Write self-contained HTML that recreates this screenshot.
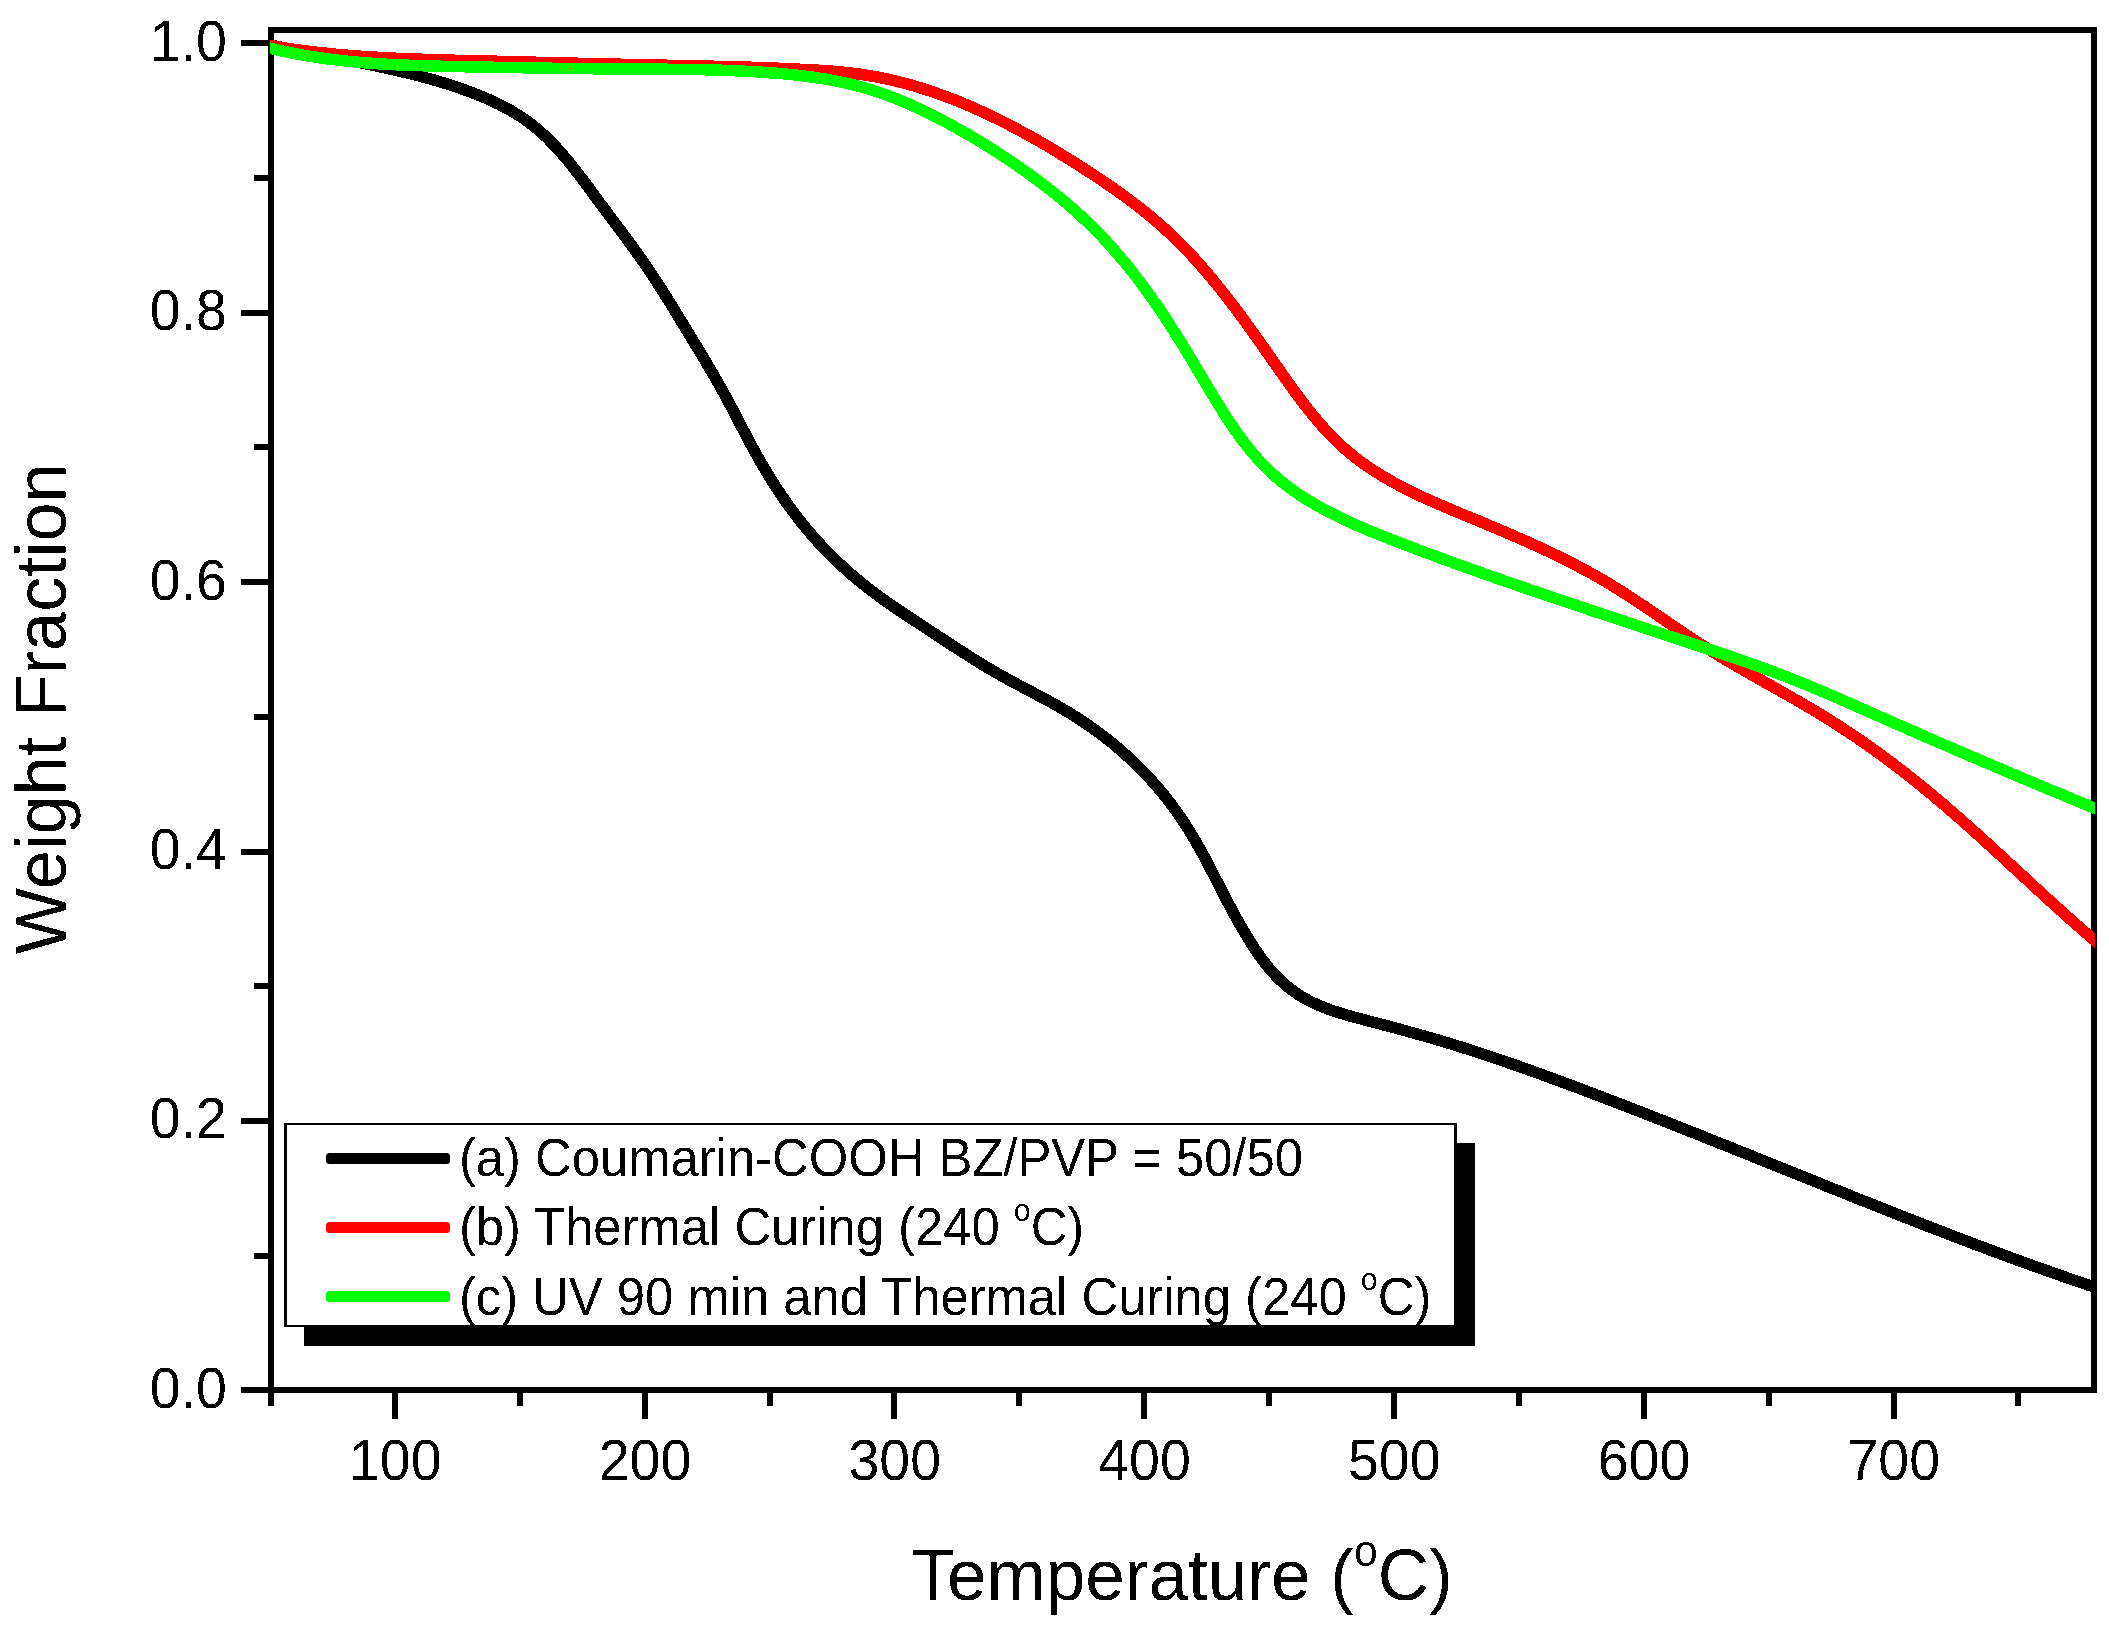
<!DOCTYPE html>
<html lang="en"><head><meta charset="utf-8"><title>TGA Weight Fraction vs Temperature</title>
<style>html,body{margin:0;padding:0;background:#fff}body{width:2109px;height:1629px;overflow:hidden}svg{display:block}text{font-family:"Liberation Sans",Arial,Helvetica,sans-serif;fill:#000}</style></head><body>
<svg width="2109" height="1629" viewBox="0 0 2109 1629">
<rect width="2109" height="1629" fill="#fff"/>
<filter id="bin" x="-5%" y="-20%" width="110%" height="140%" color-interpolation-filters="sRGB"><feComponentTransfer><feFuncA type="discrete" tableValues="0 1"/></feComponentTransfer></filter>
<g shape-rendering="crispEdges" fill="#000">
<rect x="268" y="27" width="6" height="1379"/>
<rect x="2091" y="27" width="6" height="1366"/>
<rect x="268" y="27" width="1829" height="6"/>
<rect x="241" y="1387" width="1856" height="6"/>
<rect x="392" y="1390" width="6" height="29"/>
<rect x="642" y="1390" width="6" height="29"/>
<rect x="891" y="1390" width="6" height="29"/>
<rect x="1141" y="1390" width="6" height="29"/>
<rect x="1391" y="1390" width="6" height="29"/>
<rect x="1641" y="1390" width="6" height="29"/>
<rect x="1891" y="1390" width="6" height="29"/>
<rect x="517" y="1390" width="6" height="16"/>
<rect x="767" y="1390" width="6" height="16"/>
<rect x="1016" y="1390" width="6" height="16"/>
<rect x="1266" y="1390" width="6" height="16"/>
<rect x="1516" y="1390" width="6" height="16"/>
<rect x="1766" y="1390" width="6" height="16"/>
<rect x="2015" y="1390" width="6" height="16"/>
<rect x="241" y="1118" width="29" height="6"/>
<rect x="241" y="849" width="29" height="6"/>
<rect x="241" y="579" width="29" height="6"/>
<rect x="241" y="310" width="29" height="6"/>
<rect x="241" y="40" width="29" height="6"/>
<rect x="254" y="1253" width="16" height="6"/>
<rect x="254" y="983" width="16" height="6"/>
<rect x="254" y="714" width="16" height="6"/>
<rect x="254" y="444" width="16" height="6"/>
<rect x="254" y="175" width="16" height="6"/>
</g>
<g font-size="55.5px" filter="url(#bin)">
<text transform="translate(395.2,1479.8) scale(1,1.02)" text-anchor="middle">100</text>
<text transform="translate(645.0,1479.8) scale(1,1.02)" text-anchor="middle">200</text>
<text transform="translate(894.7,1479.8) scale(1,1.02)" text-anchor="middle">300</text>
<text transform="translate(1144.5,1479.8) scale(1,1.02)" text-anchor="middle">400</text>
<text transform="translate(1394.2,1479.8) scale(1,1.02)" text-anchor="middle">500</text>
<text transform="translate(1644.0,1479.8) scale(1,1.02)" text-anchor="middle">600</text>
<text transform="translate(1893.7,1479.8) scale(1,1.02)" text-anchor="middle">700</text>
<text transform="translate(226.8,1407.8) scale(1,1.02)" text-anchor="end">0.0</text>
<text transform="translate(226.8,1138.4) scale(1,1.02)" text-anchor="end">0.2</text>
<text transform="translate(226.8,869.0) scale(1,1.02)" text-anchor="end">0.4</text>
<text transform="translate(226.8,599.6) scale(1,1.02)" text-anchor="end">0.6</text>
<text transform="translate(226.8,330.2) scale(1,1.02)" text-anchor="end">0.8</text>
<text transform="translate(226.8,60.8) scale(1,1.02)" text-anchor="end">1.0</text>
</g>
<g filter="url(#bin)">
<text font-size="70px" transform="translate(911.4,1599.9) scale(1.016,1.04)">Temperature (<tspan font-size="42px" dy="-32.7">o</tspan><tspan dy="32.7">C)</tspan></text>
<text font-size="70px" transform="translate(65.2,954.3) rotate(-90) scale(1.004,1.04)">Weight Fraction</text>
</g>
<clipPath id="plotclip"><rect x="270" y="0" width="1825" height="1629"/></clipPath>
<g fill="none" stroke-width="11.5" stroke-linejoin="round" stroke-linecap="butt" shape-rendering="crispEdges" clip-path="url(#plotclip)">
<path stroke="#000" d="M262.3,43.1 L270.1,44.8 L274.6,45.8 L279.1,46.8 L283.6,47.7 L288.1,48.7 L292.6,49.6 L297.1,50.5 L301.7,51.4 L306.2,52.3 L310.7,53.2 L315.3,54.1 L319.8,55.0 L324.3,55.8 L328.9,56.7 L333.4,57.6 L338.0,58.4 L342.5,59.3 L347.1,60.2 L351.6,61.1 L356.1,61.9 L360.7,62.8 L365.2,63.7 L369.8,64.7 L374.3,65.6 L378.8,66.5 L383.3,67.5 L387.9,68.5 L392.4,69.5 L396.9,70.5 L401.4,71.6 L405.9,72.6 L410.4,73.7 L414.9,74.8 L419.3,76.0 L423.8,77.2 L428.3,78.4 L432.7,79.6 L437.1,80.9 L441.6,82.3 L446.0,83.6 L450.4,85.0 L454.8,86.5 L459.2,88.0 L463.5,89.5 L467.9,91.1 L472.2,92.7 L476.6,94.4 L480.9,96.1 L485.1,97.9 L489.4,99.8 L493.6,101.7 L497.8,103.7 L501.9,105.8 L506.0,107.9 L510.0,110.1 L514.0,112.5 L517.9,114.9 L521.7,117.3 L525.5,119.9 L529.2,122.6 L532.8,125.4 L536.4,128.3 L539.8,131.2 L543.2,134.3 L546.6,137.4 L549.8,140.7 L553.0,144.0 L556.2,147.3 L559.3,150.7 L562.4,154.2 L565.4,157.8 L568.4,161.3 L571.3,164.9 L574.2,168.6 L577.1,172.3 L579.9,176.0 L582.8,179.7 L585.6,183.5 L588.4,187.2 L591.1,191.0 L593.9,194.8 L596.7,198.5 L599.4,202.3 L602.2,206.0 L605.0,209.7 L607.7,213.4 L610.5,217.1 L613.3,220.8 L616.0,224.5 L618.8,228.1 L621.6,231.8 L624.3,235.5 L627.0,239.2 L629.7,242.9 L632.4,246.6 L635.1,250.3 L637.8,254.0 L640.5,257.8 L643.1,261.5 L645.7,265.3 L648.3,269.1 L650.8,272.9 L653.4,276.8 L655.9,280.7 L658.4,284.5 L660.9,288.4 L663.4,292.3 L665.9,296.3 L668.3,300.2 L670.8,304.1 L673.2,308.1 L675.6,312.0 L678.0,316.0 L680.5,320.0 L682.9,323.9 L685.3,327.9 L687.7,331.8 L690.1,335.8 L692.5,339.7 L694.9,343.7 L697.3,347.6 L699.7,351.6 L702.1,355.6 L704.5,359.5 L706.8,363.5 L709.2,367.5 L711.5,371.4 L713.8,375.4 L716.1,379.4 L718.4,383.4 L720.7,387.5 L722.9,391.5 L725.1,395.5 L727.3,399.6 L729.5,403.7 L731.7,407.8 L733.8,411.8 L735.9,415.9 L738.1,420.0 L740.2,424.1 L742.3,428.2 L744.5,432.3 L746.6,436.4 L748.8,440.5 L751.0,444.6 L753.2,448.6 L755.4,452.7 L757.7,456.7 L759.9,460.8 L762.3,464.8 L764.6,468.7 L767.0,472.7 L769.4,476.7 L771.8,480.6 L774.3,484.5 L776.8,488.4 L779.4,492.2 L782.0,496.1 L784.6,499.9 L787.2,503.7 L789.9,507.4 L792.7,511.1 L795.5,514.8 L798.3,518.5 L801.1,522.1 L804.0,525.7 L807.0,529.3 L809.9,532.8 L813.0,536.3 L816.0,539.8 L819.2,543.2 L822.3,546.6 L825.5,549.9 L828.7,553.2 L832.0,556.5 L835.3,559.7 L838.7,562.9 L842.1,566.1 L845.5,569.2 L848.9,572.3 L852.4,575.3 L856.0,578.3 L859.5,581.3 L863.1,584.2 L866.7,587.1 L870.4,589.9 L874.1,592.7 L877.8,595.5 L881.5,598.2 L885.3,600.9 L889.0,603.5 L892.8,606.1 L896.7,608.8 L900.5,611.3 L904.3,613.9 L908.2,616.5 L912.0,619.0 L915.9,621.5 L919.8,624.1 L923.6,626.6 L927.5,629.1 L931.3,631.7 L935.2,634.2 L939.1,636.8 L942.9,639.3 L946.8,641.9 L950.6,644.4 L954.5,646.9 L958.4,649.4 L962.3,651.9 L966.2,654.4 L970.1,656.9 L974.0,659.4 L977.9,661.8 L981.8,664.2 L985.8,666.6 L989.8,669.0 L993.8,671.3 L997.8,673.6 L1001.8,675.9 L1005.8,678.1 L1009.9,680.4 L1014.0,682.6 L1018.0,684.7 L1022.1,686.9 L1026.2,689.1 L1030.3,691.2 L1034.4,693.4 L1038.5,695.6 L1042.6,697.7 L1046.7,699.9 L1050.7,702.1 L1054.8,704.4 L1058.8,706.7 L1062.8,709.0 L1066.7,711.3 L1070.7,713.7 L1074.6,716.1 L1078.4,718.6 L1082.3,721.1 L1086.1,723.7 L1089.9,726.3 L1093.7,729.0 L1097.4,731.7 L1101.1,734.4 L1104.7,737.2 L1108.4,740.1 L1112.0,742.9 L1115.5,745.9 L1119.0,748.9 L1122.5,751.9 L1126.0,755.0 L1129.4,758.1 L1132.8,761.3 L1136.1,764.5 L1139.4,767.7 L1142.7,771.0 L1145.9,774.4 L1149.1,777.8 L1152.2,781.2 L1155.3,784.7 L1158.3,788.2 L1161.3,791.7 L1164.2,795.3 L1167.1,798.9 L1169.9,802.6 L1172.7,806.3 L1175.4,810.0 L1178.1,813.8 L1180.7,817.6 L1183.3,821.4 L1185.8,825.3 L1188.3,829.2 L1190.7,833.1 L1193.1,837.0 L1195.4,841.0 L1197.7,845.0 L1199.9,849.0 L1202.2,853.1 L1204.4,857.1 L1206.5,861.2 L1208.7,865.3 L1210.8,869.4 L1213.0,873.5 L1215.1,877.6 L1217.2,881.7 L1219.3,885.8 L1221.4,889.9 L1223.6,894.1 L1225.7,898.2 L1227.8,902.3 L1230.0,906.4 L1232.2,910.4 L1234.4,914.5 L1236.6,918.6 L1238.9,922.6 L1241.2,926.6 L1243.5,930.6 L1245.9,934.6 L1248.3,938.6 L1250.7,942.5 L1253.2,946.4 L1255.8,950.3 L1258.4,954.1 L1261.1,957.9 L1263.9,961.6 L1266.7,965.3 L1269.6,968.8 L1272.7,972.3 L1275.8,975.7 L1279.0,979.0 L1282.3,982.1 L1285.8,985.2 L1289.3,988.0 L1293.0,990.8 L1296.7,993.4 L1300.5,995.9 L1304.5,998.3 L1308.5,1000.5 L1312.6,1002.5 L1316.8,1004.5 L1321.0,1006.3 L1325.3,1008.0 L1329.6,1009.6 L1334.0,1011.1 L1338.4,1012.5 L1342.9,1013.9 L1347.4,1015.2 L1351.8,1016.5 L1356.4,1017.7 L1360.9,1018.9 L1365.4,1020.1 L1369.9,1021.3 L1374.4,1022.5 L1378.9,1023.6 L1383.4,1024.8 L1387.9,1026.0 L1392.3,1027.2 L1396.8,1028.4 L1401.2,1029.6 L1405.7,1030.8 L1410.1,1032.1 L1414.6,1033.3 L1419.0,1034.5 L1423.5,1035.8 L1427.9,1037.1 L1432.3,1038.3 L1436.7,1039.6 L1441.2,1040.9 L1445.6,1042.3 L1450.0,1043.6 L1454.4,1045.0 L1458.8,1046.3 L1463.2,1047.7 L1467.6,1049.1 L1472.0,1050.5 L1476.4,1052.0 L1480.8,1053.4 L1485.1,1054.8 L1489.5,1056.3 L1493.9,1057.8 L1498.3,1059.3 L1502.7,1060.7 L1507.0,1062.2 L1511.4,1063.8 L1515.8,1065.3 L1520.1,1066.8 L1524.5,1068.4 L1528.8,1069.9 L1533.2,1071.5 L1537.5,1073.0 L1541.9,1074.6 L1546.2,1076.2 L1550.6,1077.8 L1554.9,1079.4 L1559.3,1081.0 L1563.6,1082.6 L1567.9,1084.2 L1572.3,1085.8 L1576.6,1087.4 L1580.9,1089.0 L1585.3,1090.7 L1589.6,1092.3 L1593.9,1094.0 L1598.2,1095.6 L1602.6,1097.2 L1606.9,1098.9 L1611.2,1100.6 L1615.5,1102.2 L1619.8,1103.9 L1624.2,1105.5 L1628.5,1107.2 L1632.8,1108.9 L1637.1,1110.5 L1641.4,1112.2 L1645.7,1113.9 L1650.0,1115.6 L1654.3,1117.3 L1658.6,1119.0 L1662.9,1120.6 L1667.2,1122.3 L1671.5,1124.0 L1675.8,1125.7 L1680.1,1127.4 L1684.4,1129.1 L1688.7,1130.8 L1693.0,1132.5 L1697.3,1134.2 L1701.6,1135.9 L1705.9,1137.7 L1710.2,1139.4 L1714.5,1141.1 L1718.7,1142.8 L1723.0,1144.5 L1727.3,1146.2 L1731.6,1147.9 L1735.9,1149.7 L1740.2,1151.4 L1744.5,1153.1 L1748.8,1154.8 L1753.0,1156.5 L1757.3,1158.3 L1761.6,1160.0 L1765.9,1161.7 L1770.2,1163.4 L1774.5,1165.2 L1778.8,1166.9 L1783.1,1168.6 L1787.3,1170.3 L1791.6,1172.1 L1795.9,1173.8 L1800.2,1175.5 L1804.5,1177.2 L1808.8,1179.0 L1813.1,1180.7 L1817.3,1182.4 L1821.6,1184.1 L1825.9,1185.9 L1830.2,1187.6 L1834.5,1189.3 L1838.8,1191.0 L1843.1,1192.7 L1847.4,1194.4 L1851.7,1196.2 L1855.9,1197.9 L1860.2,1199.6 L1864.5,1201.3 L1868.8,1203.0 L1873.1,1204.7 L1877.4,1206.4 L1881.7,1208.1 L1886.0,1209.8 L1890.3,1211.5 L1894.6,1213.2 L1898.9,1214.9 L1903.2,1216.6 L1907.5,1218.3 L1911.8,1220.0 L1916.1,1221.7 L1920.4,1223.3 L1924.7,1225.0 L1929.0,1226.7 L1933.4,1228.4 L1937.7,1230.0 L1942.0,1231.7 L1946.3,1233.4 L1950.6,1235.0 L1954.9,1236.7 L1959.2,1238.3 L1963.6,1240.0 L1967.9,1241.6 L1972.2,1243.3 L1976.5,1244.9 L1980.9,1246.5 L1985.2,1248.1 L1989.5,1249.8 L1993.9,1251.4 L1998.2,1253.0 L2002.5,1254.6 L2006.9,1256.2 L2011.2,1257.8 L2015.5,1259.4 L2019.9,1261.0 L2024.2,1262.5 L2028.6,1264.1 L2032.9,1265.7 L2037.3,1267.2 L2041.6,1268.8 L2046.0,1270.3 L2050.3,1271.9 L2054.7,1273.4 L2059.0,1274.9 L2063.4,1276.5 L2067.8,1278.0 L2072.1,1279.5 L2076.5,1281.0 L2080.9,1282.5 L2085.3,1284.0 L2089.6,1285.5 L2094.0,1286.9 L2101.6,1289.5"/>
<path stroke="#f00" d="M262.1,44.2 L270.0,45.5 L274.2,46.3 L278.4,47.0 L282.6,47.6 L286.8,48.3 L291.0,48.9 L295.2,49.5 L299.5,50.1 L303.7,50.7 L307.9,51.2 L312.1,51.7 L316.3,52.2 L320.6,52.7 L324.8,53.1 L329.0,53.6 L333.3,54.0 L337.5,54.4 L341.7,54.8 L346.0,55.1 L350.2,55.5 L354.4,55.8 L358.7,56.1 L362.9,56.4 L367.2,56.7 L371.4,56.9 L375.7,57.2 L379.9,57.4 L384.2,57.7 L388.4,57.9 L392.6,58.1 L396.9,58.3 L401.1,58.5 L405.4,58.7 L409.7,58.8 L413.9,59.0 L418.2,59.1 L422.4,59.3 L426.7,59.4 L430.9,59.6 L435.2,59.7 L439.4,59.8 L443.7,59.9 L447.9,60.0 L452.2,60.2 L456.4,60.3 L460.7,60.4 L465.0,60.5 L469.2,60.6 L473.5,60.7 L477.7,60.8 L482.0,60.9 L486.2,61.0 L490.5,61.1 L494.7,61.2 L499.0,61.3 L503.3,61.4 L507.5,61.5 L511.8,61.7 L516.0,61.8 L520.3,61.9 L524.5,62.0 L528.8,62.1 L533.0,62.2 L537.3,62.3 L541.5,62.4 L545.8,62.5 L550.0,62.6 L554.3,62.7 L558.6,62.8 L562.8,62.9 L567.1,63.0 L571.3,63.1 L575.6,63.2 L579.8,63.3 L584.1,63.4 L588.3,63.5 L592.6,63.6 L596.8,63.7 L601.1,63.8 L605.3,63.9 L609.6,64.0 L613.8,64.1 L618.1,64.2 L622.3,64.3 L626.6,64.4 L630.8,64.4 L635.1,64.5 L639.3,64.6 L643.6,64.7 L647.9,64.8 L652.1,64.9 L656.4,65.0 L660.6,65.1 L664.9,65.2 L669.1,65.3 L673.4,65.4 L677.6,65.5 L681.9,65.5 L686.1,65.6 L690.4,65.7 L694.6,65.8 L698.9,65.9 L703.1,66.0 L707.4,66.1 L711.6,66.2 L715.9,66.3 L720.1,66.4 L724.4,66.5 L728.6,66.6 L732.9,66.7 L737.1,66.9 L741.4,67.0 L745.7,67.1 L749.9,67.2 L754.2,67.4 L758.4,67.5 L762.7,67.7 L766.9,67.8 L771.2,68.0 L775.4,68.1 L779.7,68.3 L784.0,68.5 L788.2,68.7 L792.5,68.9 L796.7,69.1 L801.0,69.3 L805.2,69.5 L809.5,69.7 L813.8,69.9 L818.0,70.2 L822.3,70.5 L826.5,70.8 L830.8,71.1 L835.0,71.5 L839.3,71.8 L843.5,72.3 L847.7,72.7 L852.0,73.2 L856.2,73.7 L860.4,74.3 L864.6,74.9 L868.8,75.6 L873.0,76.3 L877.2,77.0 L881.3,77.9 L885.5,78.7 L889.6,79.6 L893.8,80.6 L897.9,81.6 L902.0,82.6 L906.1,83.7 L910.2,84.8 L914.3,86.0 L918.4,87.2 L922.4,88.5 L926.5,89.8 L930.5,91.1 L934.5,92.4 L938.5,93.9 L942.5,95.3 L946.5,96.8 L950.5,98.3 L954.5,99.8 L958.4,101.4 L962.3,103.0 L966.3,104.7 L970.2,106.3 L974.1,108.0 L977.9,109.8 L981.8,111.5 L985.7,113.3 L989.5,115.1 L993.3,117.0 L997.2,118.8 L1001.0,120.7 L1004.8,122.7 L1008.6,124.6 L1012.3,126.6 L1016.1,128.6 L1019.8,130.6 L1023.6,132.6 L1027.3,134.7 L1031.1,136.7 L1034.8,138.8 L1038.5,140.9 L1042.2,143.1 L1045.9,145.2 L1049.5,147.4 L1053.2,149.6 L1056.9,151.8 L1060.5,154.0 L1064.1,156.2 L1067.8,158.4 L1071.4,160.7 L1075.0,163.0 L1078.6,165.2 L1082.2,167.5 L1085.8,169.8 L1089.4,172.2 L1093.0,174.5 L1096.5,176.8 L1100.1,179.2 L1103.6,181.6 L1107.1,184.0 L1110.6,186.4 L1114.1,188.8 L1117.6,191.3 L1121.1,193.8 L1124.5,196.3 L1127.9,198.8 L1131.3,201.3 L1134.7,203.9 L1138.0,206.5 L1141.4,209.1 L1144.7,211.8 L1148.0,214.4 L1151.3,217.1 L1154.5,219.9 L1157.7,222.6 L1160.9,225.4 L1164.1,228.2 L1167.2,231.1 L1170.3,234.0 L1173.4,236.9 L1176.4,239.8 L1179.5,242.8 L1182.5,245.8 L1185.4,248.9 L1188.4,252.0 L1191.3,255.1 L1194.1,258.2 L1197.0,261.3 L1199.8,264.5 L1202.6,267.7 L1205.4,270.9 L1208.2,274.2 L1210.9,277.4 L1213.6,280.7 L1216.3,284.0 L1219.0,287.3 L1221.7,290.7 L1224.3,294.0 L1226.9,297.4 L1229.5,300.8 L1232.1,304.1 L1234.7,307.5 L1237.2,310.9 L1239.7,314.3 L1242.3,317.7 L1244.8,321.2 L1247.3,324.6 L1249.8,328.0 L1252.2,331.5 L1254.7,334.9 L1257.2,338.4 L1259.6,341.9 L1262.1,345.3 L1264.5,348.8 L1267.0,352.3 L1269.4,355.8 L1271.9,359.3 L1274.3,362.8 L1276.8,366.3 L1279.2,369.8 L1281.7,373.3 L1284.2,376.8 L1286.6,380.3 L1289.1,383.8 L1291.6,387.3 L1294.1,390.8 L1296.7,394.2 L1299.2,397.7 L1301.8,401.1 L1304.4,404.5 L1307.0,407.9 L1309.7,411.2 L1312.3,414.5 L1315.1,417.8 L1317.8,421.1 L1320.6,424.3 L1323.4,427.5 L1326.2,430.6 L1329.1,433.7 L1332.1,436.7 L1335.1,439.7 L1338.1,442.7 L1341.2,445.5 L1344.3,448.4 L1347.5,451.1 L1350.7,453.8 L1354.0,456.5 L1357.3,459.1 L1360.7,461.6 L1364.1,464.1 L1367.6,466.5 L1371.1,468.9 L1374.7,471.2 L1378.2,473.4 L1381.9,475.7 L1385.5,477.8 L1389.2,480.0 L1392.9,482.1 L1396.6,484.1 L1400.4,486.1 L1404.2,488.1 L1407.9,490.0 L1411.8,491.9 L1415.6,493.7 L1419.4,495.6 L1423.3,497.4 L1427.2,499.1 L1431.1,500.9 L1435.0,502.6 L1438.9,504.3 L1442.8,506.0 L1446.7,507.7 L1450.7,509.4 L1454.6,511.0 L1458.5,512.7 L1462.5,514.3 L1466.4,515.9 L1470.4,517.6 L1474.3,519.2 L1478.3,520.8 L1482.2,522.5 L1486.2,524.1 L1490.1,525.8 L1494.0,527.4 L1498.0,529.1 L1501.9,530.7 L1505.8,532.4 L1509.7,534.1 L1513.6,535.8 L1517.5,537.5 L1521.4,539.2 L1525.3,540.9 L1529.2,542.6 L1533.1,544.4 L1536.9,546.2 L1540.8,547.9 L1544.6,549.7 L1548.5,551.5 L1552.3,553.4 L1556.1,555.2 L1559.9,557.1 L1563.7,558.9 L1567.5,560.8 L1571.3,562.8 L1575.1,564.7 L1578.8,566.7 L1582.6,568.7 L1586.3,570.7 L1590.0,572.7 L1593.7,574.8 L1597.4,576.9 L1601.1,579.0 L1604.7,581.1 L1608.4,583.3 L1612.0,585.5 L1615.6,587.7 L1619.2,589.9 L1622.8,592.2 L1626.4,594.5 L1630.0,596.8 L1633.5,599.2 L1637.1,601.5 L1640.6,603.9 L1644.2,606.2 L1647.7,608.6 L1651.2,611.0 L1654.8,613.4 L1658.3,615.8 L1661.8,618.2 L1665.3,620.6 L1668.8,623.0 L1672.4,625.4 L1675.9,627.8 L1679.4,630.2 L1683.0,632.6 L1686.5,634.9 L1690.1,637.3 L1693.6,639.6 L1697.2,642.0 L1700.8,644.3 L1704.4,646.6 L1708.0,648.9 L1711.6,651.1 L1715.2,653.4 L1718.8,655.6 L1722.5,657.8 L1726.1,660.0 L1729.8,662.1 L1733.4,664.3 L1737.1,666.4 L1740.8,668.5 L1744.5,670.7 L1748.2,672.8 L1751.9,674.9 L1755.6,677.0 L1759.3,679.1 L1763.0,681.2 L1766.7,683.3 L1770.4,685.3 L1774.1,687.4 L1777.8,689.5 L1781.5,691.6 L1785.2,693.7 L1788.9,695.8 L1792.6,697.9 L1796.2,700.0 L1799.9,702.2 L1803.6,704.3 L1807.3,706.5 L1810.9,708.6 L1814.6,710.8 L1818.2,713.0 L1821.8,715.2 L1825.5,717.4 L1829.1,719.7 L1832.7,721.9 L1836.3,724.2 L1839.8,726.5 L1843.4,728.9 L1847.0,731.2 L1850.5,733.6 L1854.0,735.9 L1857.6,738.3 L1861.1,740.7 L1864.6,743.2 L1868.0,745.6 L1871.5,748.1 L1875.0,750.5 L1878.4,753.0 L1881.9,755.5 L1885.3,758.1 L1888.7,760.6 L1892.1,763.1 L1895.5,765.7 L1898.9,768.3 L1902.3,770.9 L1905.7,773.5 L1909.0,776.1 L1912.4,778.8 L1915.7,781.4 L1919.0,784.1 L1922.3,786.8 L1925.6,789.5 L1928.9,792.2 L1932.2,794.9 L1935.4,797.6 L1938.7,800.4 L1941.9,803.1 L1945.2,805.9 L1948.4,808.7 L1951.6,811.5 L1954.8,814.2 L1958.0,817.0 L1961.2,819.9 L1964.4,822.7 L1967.6,825.5 L1970.7,828.3 L1973.9,831.2 L1977.1,834.0 L1980.2,836.9 L1983.4,839.7 L1986.5,842.6 L1989.6,845.4 L1992.8,848.3 L1995.9,851.2 L1999.1,854.1 L2002.2,856.9 L2005.3,859.8 L2008.4,862.7 L2011.6,865.6 L2014.7,868.5 L2017.8,871.4 L2021.0,874.2 L2024.1,877.1 L2027.2,880.0 L2030.3,882.9 L2033.5,885.8 L2036.6,888.7 L2039.7,891.5 L2042.9,894.4 L2046.0,897.3 L2049.1,900.1 L2052.3,903.0 L2055.4,905.9 L2058.6,908.7 L2061.8,911.6 L2064.9,914.4 L2068.1,917.2 L2071.3,920.1 L2074.5,922.9 L2077.7,925.7 L2080.9,928.5 L2084.1,931.3 L2087.3,934.1 L2090.5,936.8 L2093.7,939.6 L2099.8,944.8"/>
<path stroke="#0f0" d="M262.2,46.3 L270.0,48.1 L274.0,49.1 L278.1,50.1 L282.1,51.0 L286.2,51.9 L290.3,52.7 L294.3,53.5 L298.4,54.3 L302.5,55.0 L306.6,55.7 L310.6,56.4 L314.7,57.0 L318.8,57.7 L322.9,58.2 L327.0,58.8 L331.1,59.3 L335.2,59.8 L339.3,60.3 L343.4,60.8 L347.5,61.2 L351.6,61.6 L355.7,62.0 L359.8,62.4 L363.9,62.7 L368.0,63.0 L372.1,63.3 L376.3,63.6 L380.4,63.9 L384.5,64.1 L388.6,64.4 L392.8,64.6 L396.9,64.8 L401.0,65.0 L405.1,65.1 L409.3,65.3 L413.4,65.5 L417.5,65.6 L421.7,65.7 L425.8,65.9 L429.9,66.0 L434.1,66.1 L438.2,66.2 L442.3,66.3 L446.5,66.4 L450.6,66.5 L454.7,66.5 L458.9,66.6 L463.0,66.7 L467.1,66.8 L471.3,66.8 L475.4,66.9 L479.5,67.0 L483.7,67.1 L487.8,67.2 L491.9,67.2 L496.1,67.3 L500.2,67.4 L504.3,67.4 L508.5,67.5 L512.6,67.6 L516.7,67.7 L520.9,67.7 L525.0,67.8 L529.1,67.9 L533.3,67.9 L537.4,68.0 L541.5,68.1 L545.7,68.1 L549.8,68.2 L553.9,68.3 L558.1,68.3 L562.2,68.4 L566.3,68.4 L570.5,68.5 L574.6,68.5 L578.7,68.6 L582.8,68.6 L587.0,68.7 L591.1,68.7 L595.2,68.8 L599.4,68.8 L603.5,68.8 L607.6,68.9 L611.8,68.9 L615.9,68.9 L620.0,69.0 L624.2,69.0 L628.3,69.0 L632.4,69.0 L636.6,69.1 L640.7,69.1 L644.8,69.1 L649.0,69.1 L653.1,69.1 L657.2,69.2 L661.4,69.2 L665.5,69.2 L669.6,69.3 L673.7,69.3 L677.9,69.3 L682.0,69.4 L686.1,69.4 L690.3,69.5 L694.4,69.6 L698.5,69.7 L702.7,69.7 L706.8,69.8 L710.9,69.9 L715.1,70.0 L719.2,70.2 L723.3,70.3 L727.5,70.4 L731.6,70.6 L735.7,70.8 L739.9,71.0 L744.0,71.2 L748.1,71.4 L752.3,71.6 L756.4,71.8 L760.5,72.1 L764.7,72.4 L768.8,72.7 L772.9,73.0 L777.1,73.3 L781.2,73.6 L785.3,74.0 L789.5,74.4 L793.6,74.8 L797.7,75.3 L801.8,75.8 L805.9,76.3 L810.0,76.8 L814.1,77.4 L818.2,78.0 L822.3,78.6 L826.3,79.3 L830.4,80.0 L834.5,80.8 L838.5,81.6 L842.5,82.4 L846.6,83.3 L850.6,84.2 L854.6,85.2 L858.5,86.2 L862.5,87.3 L866.5,88.4 L870.4,89.6 L874.3,90.9 L878.2,92.2 L882.1,93.5 L886.0,94.9 L889.9,96.3 L893.7,97.8 L897.6,99.3 L901.4,100.9 L905.2,102.5 L909.0,104.1 L912.8,105.8 L916.5,107.5 L920.3,109.2 L924.0,111.0 L927.7,112.8 L931.5,114.7 L935.2,116.6 L938.8,118.5 L942.5,120.4 L946.2,122.3 L949.8,124.3 L953.5,126.3 L957.1,128.3 L960.7,130.3 L964.3,132.4 L967.9,134.4 L971.5,136.5 L975.1,138.6 L978.6,140.8 L982.2,142.9 L985.7,145.1 L989.2,147.3 L992.7,149.5 L996.2,151.7 L999.7,153.9 L1003.1,156.2 L1006.6,158.5 L1010.0,160.8 L1013.4,163.1 L1016.8,165.4 L1020.2,167.8 L1023.6,170.2 L1027.0,172.6 L1030.3,175.0 L1033.6,177.5 L1037.0,179.9 L1040.3,182.4 L1043.6,184.9 L1046.8,187.4 L1050.1,189.9 L1053.3,192.5 L1056.6,195.1 L1059.8,197.7 L1063.0,200.3 L1066.1,203.0 L1069.3,205.7 L1072.4,208.4 L1075.5,211.1 L1078.5,213.9 L1081.6,216.6 L1084.6,219.5 L1087.6,222.3 L1090.6,225.2 L1093.5,228.1 L1096.4,231.0 L1099.3,234.0 L1102.2,237.0 L1105.0,240.0 L1107.8,243.0 L1110.6,246.1 L1113.3,249.2 L1116.0,252.3 L1118.7,255.4 L1121.4,258.6 L1124.1,261.7 L1126.7,264.9 L1129.3,268.1 L1131.9,271.4 L1134.4,274.6 L1137.0,277.9 L1139.5,281.2 L1141.9,284.5 L1144.4,287.8 L1146.8,291.1 L1149.2,294.4 L1151.6,297.8 L1154.0,301.1 L1156.3,304.5 L1158.7,307.9 L1161.0,311.3 L1163.3,314.7 L1165.5,318.1 L1167.8,321.6 L1170.0,325.0 L1172.2,328.5 L1174.4,331.9 L1176.6,335.4 L1178.8,338.9 L1181.0,342.4 L1183.2,345.9 L1185.3,349.4 L1187.5,353.0 L1189.6,356.5 L1191.8,360.1 L1193.9,363.7 L1196.0,367.2 L1198.1,370.8 L1200.3,374.4 L1202.4,378.0 L1204.5,381.6 L1206.7,385.2 L1208.8,388.9 L1211.0,392.5 L1213.2,396.1 L1215.3,399.7 L1217.5,403.2 L1219.8,406.8 L1222.0,410.4 L1224.2,413.9 L1226.5,417.4 L1228.8,420.9 L1231.1,424.4 L1233.5,427.8 L1235.9,431.2 L1238.3,434.6 L1240.7,437.9 L1243.2,441.2 L1245.7,444.5 L1248.2,447.7 L1250.8,450.9 L1253.5,454.0 L1256.2,457.1 L1258.9,460.2 L1261.7,463.2 L1264.5,466.1 L1267.3,468.9 L1270.3,471.8 L1273.3,474.5 L1276.3,477.2 L1279.4,479.8 L1282.5,482.4 L1285.7,484.9 L1288.9,487.3 L1292.2,489.7 L1295.5,492.1 L1298.9,494.4 L1302.3,496.6 L1305.7,498.8 L1309.2,501.0 L1312.7,503.1 L1316.3,505.2 L1319.9,507.2 L1323.5,509.2 L1327.1,511.1 L1330.8,513.0 L1334.5,514.9 L1338.2,516.7 L1342.0,518.5 L1345.7,520.3 L1349.5,522.1 L1353.3,523.8 L1357.1,525.5 L1361.0,527.1 L1364.8,528.8 L1368.7,530.4 L1372.5,532.0 L1376.4,533.6 L1380.3,535.1 L1384.2,536.7 L1388.1,538.2 L1392.0,539.8 L1395.9,541.3 L1399.7,542.8 L1403.6,544.3 L1407.5,545.7 L1411.4,547.2 L1415.3,548.7 L1419.2,550.2 L1423.0,551.6 L1426.9,553.1 L1430.8,554.5 L1434.7,555.9 L1438.5,557.4 L1442.4,558.8 L1446.3,560.2 L1450.1,561.6 L1454.0,563.0 L1457.9,564.4 L1461.8,565.8 L1465.6,567.2 L1469.5,568.6 L1473.4,570.0 L1477.2,571.3 L1481.1,572.7 L1485.0,574.1 L1488.9,575.5 L1492.7,576.8 L1496.6,578.2 L1500.5,579.5 L1504.4,580.9 L1508.3,582.2 L1512.2,583.6 L1516.1,584.9 L1519.9,586.3 L1523.8,587.6 L1527.7,588.9 L1531.6,590.3 L1535.6,591.6 L1539.5,592.9 L1543.4,594.3 L1547.3,595.6 L1551.2,596.9 L1555.1,598.2 L1559.0,599.6 L1562.9,600.9 L1566.9,602.2 L1570.8,603.5 L1574.7,604.8 L1578.6,606.1 L1582.6,607.4 L1586.5,608.7 L1590.4,610.1 L1594.3,611.4 L1598.3,612.7 L1602.2,614.0 L1606.1,615.3 L1610.1,616.6 L1614.0,617.9 L1617.9,619.2 L1621.9,620.5 L1625.8,621.8 L1629.7,623.1 L1633.7,624.4 L1637.6,625.7 L1641.5,627.0 L1645.5,628.3 L1649.4,629.6 L1653.3,630.9 L1657.3,632.2 L1661.2,633.5 L1665.1,634.8 L1669.1,636.1 L1673.0,637.4 L1676.9,638.7 L1680.9,640.0 L1684.8,641.3 L1688.7,642.6 L1692.7,643.9 L1696.6,645.2 L1700.5,646.5 L1704.4,647.8 L1708.3,649.1 L1712.3,650.4 L1716.2,651.7 L1720.1,653.0 L1724.0,654.3 L1727.9,655.7 L1731.8,657.0 L1735.7,658.3 L1739.6,659.7 L1743.5,661.0 L1747.4,662.4 L1751.3,663.7 L1755.2,665.1 L1759.1,666.5 L1762.9,667.9 L1766.8,669.3 L1770.7,670.8 L1774.5,672.2 L1778.4,673.7 L1782.2,675.2 L1786.1,676.7 L1789.9,678.2 L1793.7,679.7 L1797.6,681.2 L1801.4,682.8 L1805.2,684.3 L1809.0,685.9 L1812.8,687.5 L1816.7,689.1 L1820.5,690.7 L1824.3,692.3 L1828.1,693.9 L1831.9,695.6 L1835.7,697.2 L1839.5,698.9 L1843.2,700.5 L1847.0,702.2 L1850.8,703.8 L1854.6,705.5 L1858.4,707.2 L1862.2,708.8 L1866.0,710.5 L1869.7,712.2 L1873.5,713.9 L1877.3,715.5 L1881.1,717.2 L1884.9,718.9 L1888.7,720.6 L1892.4,722.2 L1896.2,723.9 L1900.0,725.6 L1903.8,727.2 L1907.6,728.9 L1911.4,730.5 L1915.2,732.2 L1918.9,733.9 L1922.7,735.5 L1926.5,737.2 L1930.3,738.8 L1934.1,740.5 L1937.9,742.1 L1941.7,743.7 L1945.5,745.4 L1949.3,747.0 L1953.1,748.7 L1956.9,750.3 L1960.7,751.9 L1964.5,753.5 L1968.3,755.2 L1972.1,756.8 L1975.9,758.4 L1979.7,760.0 L1983.5,761.7 L1987.3,763.3 L1991.1,764.9 L1994.9,766.5 L1998.7,768.1 L2002.5,769.7 L2006.3,771.4 L2010.1,773.0 L2013.9,774.6 L2017.7,776.2 L2021.5,777.8 L2025.3,779.4 L2029.1,781.0 L2032.9,782.6 L2036.8,784.2 L2040.6,785.8 L2044.4,787.4 L2048.2,789.0 L2052.0,790.6 L2055.8,792.1 L2059.6,793.7 L2063.5,795.3 L2067.3,796.9 L2071.1,798.5 L2074.9,800.1 L2078.7,801.7 L2082.5,803.3 L2086.4,804.8 L2090.2,806.4 L2094.0,808.0 L2101.4,811.1"/>
</g>
<g shape-rendering="crispEdges">
<rect x="304" y="1143" width="1171" height="203" fill="#000"/>
<rect x="284" y="1123" width="1173" height="204" fill="#000"/>
<rect x="287" y="1125" width="1167" height="200" fill="#fff"/>
</g>
<rect x="326" y="1153" width="124" height="11" rx="3.5" fill="#000"/>
<rect x="326" y="1222" width="124" height="11" rx="3.5" fill="#f00"/>
<rect x="326" y="1291" width="124" height="11" rx="3.5" fill="#0f0"/>
<g font-size="50.7px" filter="url(#bin)">
<text transform="translate(458.9,1175.6) scale(1.0015,1.04)">(a) Coumarin-COOH BZ/PVP = 50/50</text>
<text transform="translate(458.9,1245.2) scale(1.0015,1.04)">(b) Thermal Curing (240 <tspan font-size="30.4px" dy="-23.6">o</tspan><tspan dy="23.6">C)</tspan></text>
<text transform="translate(458.9,1314.8) scale(1.0015,1.04)">(c) UV 90 min and Thermal Curing (240 <tspan font-size="30.4px" dy="-23.6">o</tspan><tspan dy="23.6">C)</tspan></text>
</g>
</svg></body></html>
